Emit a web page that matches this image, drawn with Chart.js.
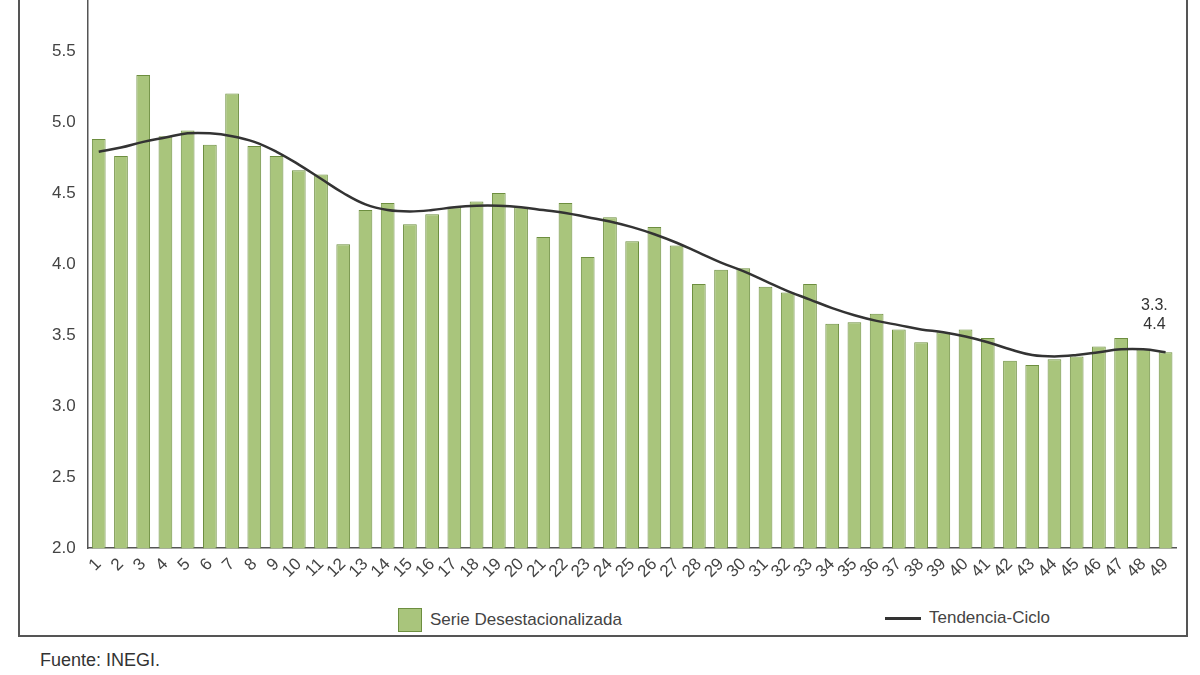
<!DOCTYPE html>
<html><head><meta charset="utf-8">
<script src="https://cdn.jsdelivr.net/npm/chart.js@4/dist/chart.umd.min.js"></script>
<style>
body{margin:0;width:1200px;height:675px;background:#fff;font-family:"Liberation Sans",Arial,sans-serif;position:relative;overflow:hidden}
#frame{position:absolute;left:18px;top:-5px;width:1166px;height:640px;border:2px solid #555;border-top:none}
#wrap{position:absolute;left:20px;top:-15px;width:1160px;height:597px}
#legend{position:absolute;top:608px;left:0;width:1200px;font-size:17px;color:#444}
.it{position:absolute;display:flex;align-items:center}
#src{position:absolute;left:40px;top:650px;font-size:18px;color:#333}
</style></head><body>
<div id="frame"></div>
<div id="wrap"><canvas id="c"></canvas></div>
<div id="legend">
 <div class="it" style="left:398px"><span style="display:inline-block;width:22px;height:22px;background:#a9c57c;border:1px solid #6d8e3f;margin-right:8px"></span>Serie Desestacionalizada</div>
 <div class="it" style="left:885px"><span style="display:inline-block;width:36px;height:3px;background:#333;margin-right:8px"></span>Tendencia-Ciclo</div>
</div>
<div id="src">Fuente: INEGI.</div>
<script>
const labels = Array.from({length: 49}, (_, i) => String(i + 1));
const serie = [4.88,4.76,5.33,4.90,4.94,4.84,5.20,4.83,4.76,4.66,4.63,4.14,4.38,4.43,4.28,4.35,4.40,4.44,4.50,4.40,4.19,4.43,4.05,4.33,4.16,4.26,4.13,3.86,3.96,3.97,3.84,3.80,3.86,3.58,3.59,3.65,3.54,3.45,3.52,3.54,3.48,3.32,3.29,3.33,3.35,3.42,3.48,3.40,3.38];
const tendencia = [4.79,4.82,4.86,4.89,4.92,4.92,4.90,4.86,4.79,4.70,4.60,4.50,4.42,4.38,4.37,4.38,4.40,4.41,4.41,4.40,4.38,4.36,4.33,4.30,4.26,4.21,4.15,4.08,4.01,3.95,3.88,3.81,3.75,3.69,3.64,3.60,3.57,3.54,3.52,3.49,3.45,3.40,3.36,3.35,3.36,3.38,3.40,3.40,3.38];
const yTicks = [2.0,2.5,3.0,3.5,4.0,4.5,5.0,5.5];

const endLabels = {
  id: "endLabels",
  afterDatasetsDraw(chart) {
    const ctx = chart.ctx, x = chart.scales.x, y = chart.scales.y;
    const px = x.getPixelForValue(47.5);
    ctx.save();
    ctx.font = "16px 'Liberation Sans', Arial";
    ctx.fillStyle = "#333";
    ctx.textAlign = "center";
    ctx.fillText("3.3.", px, y.getPixelForValue(3.68));
    ctx.fillText("4.4", px, y.getPixelForValue(3.54));
    ctx.restore();
  }
};

new Chart(document.getElementById("c"), {
  data: {
    labels,
    datasets: [
      { type: "line", data: tendencia, borderColor: "#333", borderWidth: 2.5, pointRadius: 0, tension: 0.4, order: 0 },
      { type: "bar", data: serie, backgroundColor: "#a9c57c", borderColor: "#6d8e3f", borderWidth: 1, categoryPercentage: 0.65, barPercentage: 0.95, order: 1 }
    ]
  },
  options: {
    responsive: true, maintainAspectRatio: false, animation: false,
    layout: { padding: { left: 26, right: 0, top: 0, bottom: 0 } },
    plugins: { legend: { display: false }, tooltip: { enabled: false } },
    scales: {
      y: {
        min: 2, max: 5.85,
        afterBuildTicks: (s) => { s.ticks = yTicks.map(v => ({ value: v })); },
        ticks: { callback: (v) => Number(v).toFixed(1), color: "#444", font: { size: 17, family: "Liberation Sans" }, padding: 6 },
        grid: { display: false, drawTicks: true, tickLength: 6, tickColor: "#555" },
        border: { color: "#555", width: 1.5 }
      },
      x: {
        ticks: { minRotation: 45, maxRotation: 45, autoSkip: false, color: "#444", font: { size: 17, family: "Liberation Sans" }, padding: 0 },
        grid: { display: false, drawTicks: true, tickLength: 6, tickColor: "#555" },
        border: { color: "#555", width: 1.5 }
      }
    }
  },
  plugins: [endLabels]
});
</script>
</body></html>
